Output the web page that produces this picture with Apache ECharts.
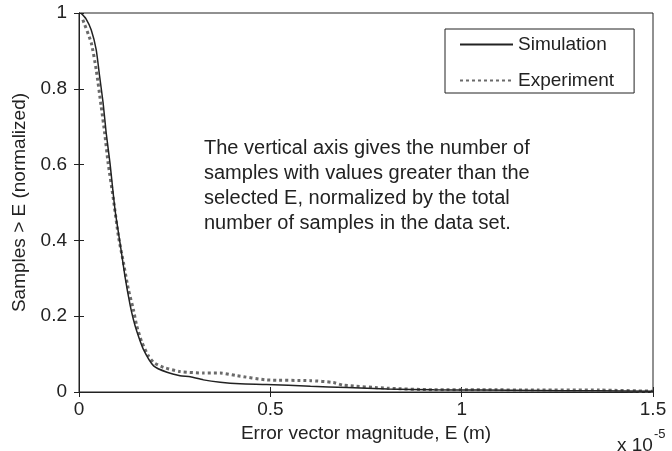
<!DOCTYPE html>
<html><head><meta charset="utf-8">
<script src="https://cdn.jsdelivr.net/npm/echarts@6/dist/echarts.min.js"></script>
<style>html,body{margin:0;padding:0;background:#fff}#c{width:672px;height:451px}</style>
</head><body><div id="c"></div>
<script>
// E in units of 1e-5 m
const simE = [0.006,0.018,0.032,0.045,0.054,0.063,0.071,0.081,0.094,0.107,0.120,0.134,0.142,0.151,0.168,0.195,0.230,0.264,0.291,0.325,0.369,0.421,0.49,0.605,0.70,0.806,0.927,1.05,1.2,1.35,1.5];
const simV = [0.999,0.985,0.955,0.903,0.832,0.763,0.684,0.604,0.482,0.395,0.306,0.227,0.192,0.160,0.113,0.069,0.052,0.043,0.040,0.032,0.026,0.022,0.020,0.015,0.012,0.008,0.006,0.005,0.004,0.003,0.002];
const expE = [0.010,0.032,0.045,0.058,0.067,0.076,0.090,0.103,0.116,0.129,0.142,0.151,0.164,0.181,0.195,0.221,0.264,0.325,0.369,0.413,0.49,0.605,0.665,0.69,0.806,0.927,1.05,1.2,1.36,1.5];
const expV = [0.982,0.921,0.850,0.753,0.684,0.605,0.508,0.411,0.342,0.271,0.218,0.174,0.132,0.096,0.078,0.065,0.054,0.050,0.050,0.043,0.032,0.030,0.025,0.018,0.010,0.006,0.006,0.005,0.005,0.002];
const xTicks = [0,0.5,1,1.5];
const yTicks = [0,0.2,0.4,0.6,0.8,1];
const seriesNames = ['Simulation','Experiment'];
const note = ['The vertical axis gives the number of','samples with values greater than the','selected E, normalized by the total','number of samples in the data set.'];

const font = 'Liberation Sans, Arial, Helvetica, sans-serif';
const FS = 19;
const chart = echarts.init(document.getElementById('c'));
const zip = (a,b)=>a.map((v,i)=>[v,b[i]]);
const tickFmt = v => String(Math.round(v*10)/10);
const tickStyle = {inside:true,length:5,lineStyle:{color:'#222'}};
chart.setOption({
  animation:false,
  backgroundColor:'#fff',
  grid:{left:79,right:19,top:13,bottom:59,show:true,borderColor:'#222',borderWidth:1},
  legend:{
    left:445, top:29, orient:'vertical', itemWidth:53, itemHeight:12, itemGap:17,
    padding:[6,20,3,14], borderColor:'#222', borderWidth:1, backgroundColor:'#fff',
    itemStyle:{opacity:0},
    textStyle:{fontFamily:font,fontSize:FS,color:'#222'},
    data:seriesNames
  },
  xAxis:[{
    type:'value', min:0, max:1.5, interval:0.5,
    axisLine:{lineStyle:{color:'#222'}}, axisTick:tickStyle,
    splitLine:{show:false},
    axisLabel:{fontFamily:font,fontSize:FS,color:'#222',margin:8,formatter:tickFmt},
    name:'Error vector magnitude, E (m)', nameLocation:'middle', nameGap:29,
    nameTextStyle:{fontFamily:font,fontSize:FS,color:'#222'}
  },{
    type:'value', position:'top', min:0, max:1.5, interval:0.5,
    axisLine:{lineStyle:{color:'#222'}}, axisTick:tickStyle,
    axisLabel:{show:false}, splitLine:{show:false}
  }],
  yAxis:[{
    type:'value', min:0, max:1, interval:0.2,
    axisLine:{lineStyle:{color:'#222'}}, axisTick:tickStyle,
    splitLine:{show:false},
    axisLabel:{fontFamily:font,fontSize:FS,color:'#222',margin:12,formatter:tickFmt},
    name:'Samples > E (normalized)', nameLocation:'middle', nameGap:50,
    nameTextStyle:{fontFamily:font,fontSize:FS,color:'#222'}
  },{
    type:'value', position:'right', min:0, max:1, interval:0.2,
    axisLine:{lineStyle:{color:'#222'}}, axisTick:tickStyle,
    axisLabel:{show:false}, splitLine:{show:false}
  }],
  series:[{
    name:seriesNames[0], type:'line', smooth:0.2, symbol:'none',
    lineStyle:{color:'#222',width:1.5}, itemStyle:{color:'#222'},
    data:zip(simE,simV), z:3
  },{
    name:seriesNames[1], type:'line', smooth:0.2, symbol:'none',
    lineStyle:{color:'#6a6a6a',width:3,type:[3,3]}, itemStyle:{color:'#6a6a6a'},
    data:zip(expE,expV), z:2
  }],
  graphic:[{
    type:'text', left:204, top:136,
    style:{text:note.join('\n'),font:'20px '+font,fill:'#222',lineHeight:25}
  },{
    type:'text', left:617, top:436,
    style:{text:'x 10',font:FS+'px '+font,fill:'#222'}
  },{
    type:'text', left:654, top:428,
    style:{text:'-5',font:'13px '+font,fill:'#222'}
  }]
});
</script></body></html>
